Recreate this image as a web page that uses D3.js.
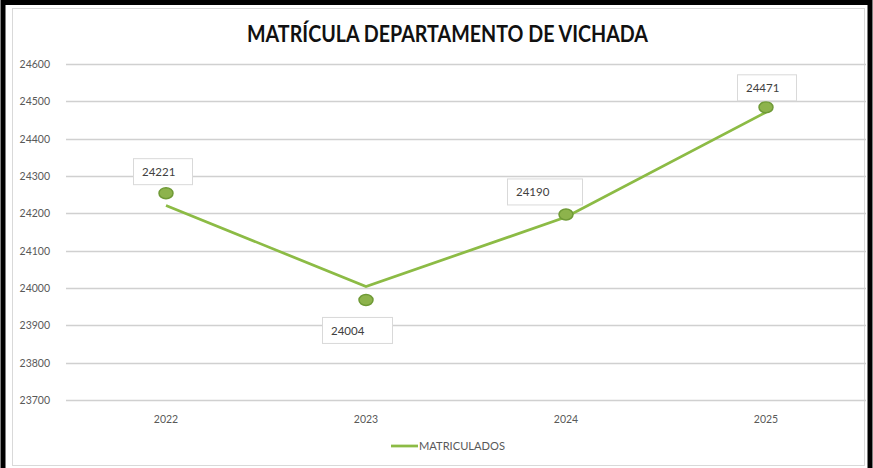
<!DOCTYPE html>
<html>
<head>
<meta charset="utf-8">
<script src="https://cdn.jsdelivr.net/npm/d3@7"></script>
<style>
  body { margin: 0; background: #fff; }
  svg { display: block; font-family: Lato, "Open Sans", sans-serif; }
</style>
</head>
<body>
<div id="chart"></div>
<script>
// matricula departamento de vichada

var years = ["2022", "2023", "2024", "2025"];
var matriculados = [24221, 24004, 24190, 24471];
// markers in the source image sit a bit off the line
var marker_values = [24254, 23968, 24197, 24484];
var y_ticks = [23700, 23800, 23900, 24000, 24100, 24200, 24300, 24400, 24500, 24600];
var title_text = "MATRÍCULA DEPARTAMENTO DE VICHADA";
var legend_text = "MATRICULADOS";

var width = 873, height = 468;
var plot_left = 66, plot_right = 866,
	plot_top = 64, plot_bottom = 400;

var line_color = "#8cbb45";

var svg = d3.select("#chart").append("svg")
	.attr("width", width)
	.attr("height", height);

// outer black frame
svg.append("rect")
	.attr("x", 3).attr("y", 2.5)
	.attr("width", 867).attr("height", 470)
	.attr("fill", "none")
	.attr("stroke", "#000")
	.attr("stroke-width", 5);

// inner chart border
svg.append("rect")
	.attr("x", 12.5).attr("y", 8.5)
	.attr("width", 852).attr("height", 457)
	.attr("fill", "#fff")
	.attr("stroke", "#d9d9d9")
	.attr("stroke-width", 1);

var x = d3.scaleBand()
	.domain(years)
	.range([plot_left, plot_right]);

var y = d3.scaleLinear()
	.domain([23700, 24600])
	.range([plot_bottom, plot_top]);

// grid
svg.append("g")
	.selectAll("line")
	.data(y_ticks)
	.enter().append("line")
	.attr("x1", plot_left)
	.attr("x2", plot_right)
	.attr("y1", function(d) { return Math.round(y(d)) + 0.5; })
	.attr("y2", function(d) { return Math.round(y(d)) + 0.5; })
	.attr("stroke", "#d0d0d0")
	.attr("stroke-width", 1.5);

// y axis labels
var y_axis = svg.append("g")
	.attr("transform", "translate(" + (plot_left - 13) + ",0)")
	.call(d3.axisLeft(y).tickValues(y_ticks).tickSize(0).tickFormat(d3.format("d")));
y_axis.select(".domain").remove();
y_axis.selectAll("text")
	.attr("font-size", 10.5)
	.attr("font-family", "Lato, 'Open Sans', sans-serif")
	.attr("fill", "#595959");

// x axis labels
var x_axis = svg.append("g")
	.attr("transform", "translate(0," + (plot_bottom + 13) + ")")
	.call(d3.axisBottom(x).tickSize(0));
x_axis.select(".domain").remove();
x_axis.selectAll("text")
	.attr("font-size", 10.5)
	.attr("font-family", "Lato, 'Open Sans', sans-serif")
	.attr("fill", "#595959");

// title
svg.append("text")
	.attr("x", 447.5)
	.attr("y", 42)
	.attr("text-anchor", "middle")
	.attr("font-size", 22)
	.attr("font-weight", "bold")
	.attr("fill", "#111")
	.attr("textLength", 401)
	.attr("lengthAdjust", "spacingAndGlyphs")
	.text(title_text);

function cx(d, i) { return x(years[i]) + x.bandwidth() / 2; }

// line
var line = d3.line()
	.x(function(d, i) { return cx(d, i); })
	.y(function(d) { return y(d); });

svg.append("path")
	.datum(matriculados)
	.attr("d", line)
	.attr("fill", "none")
	.attr("stroke", line_color)
	.attr("stroke-width", 2.75);

// markers
svg.append("g")
	.selectAll("ellipse")
	.data(marker_values)
	.enter().append("ellipse")
	.attr("cx", function(d, i) { return cx(d, i); })
	.attr("cy", function(d) { return y(d); })
	.attr("rx", 7)
	.attr("ry", 5.5)
	.attr("fill", "#8db34c")
	.attr("stroke", "#6f9a36")
	.attr("stroke-width", 1.5);

// data labels: offset of box from the category center
var label_dx = [-33, -44, -59, -29];
var label_dy = [-35, 17, -36, -33];
var label_w = [59, 70, 75, 59];
var labels = svg.append("g")
	.selectAll("g")
	.data(marker_values)
	.enter().append("g")
	.attr("transform", function(d, i) {
		return "translate(" + (cx(d, i) + label_dx[i]) + "," + (y(d) + label_dy[i]) + ")";
	});

labels.append("rect")
	.attr("x", 0.5).attr("y", 0.5)
	.attr("width", function(d, i) { return label_w[i]; })
	.attr("height", 26)
	.attr("fill", "#fff")
	.attr("stroke", "#d9d9d9")
	.attr("stroke-width", 1);

labels.append("text")
	.attr("x", 9)
	.attr("y", 18)
	.attr("font-size", 11.5)
	.attr("fill", "#404040")
	.text(function(d, i) { return matriculados[i]; });

// legend
var legend = svg.append("g")
	.attr("transform", "translate(391,446)");
legend.append("line")
	.attr("x1", 0).attr("x2", 27)
	.attr("y1", 0).attr("y2", 0)
	.attr("stroke", line_color)
	.attr("stroke-width", 2.75);
legend.append("text")
	.attr("x", 28)
	.attr("y", 4)
	.attr("font-size", 10.5)
	.attr("fill", "#595959")
	.attr("textLength", 86)
	.attr("lengthAdjust", "spacingAndGlyphs")
	.text(legend_text);
</script>
</body>
</html>
